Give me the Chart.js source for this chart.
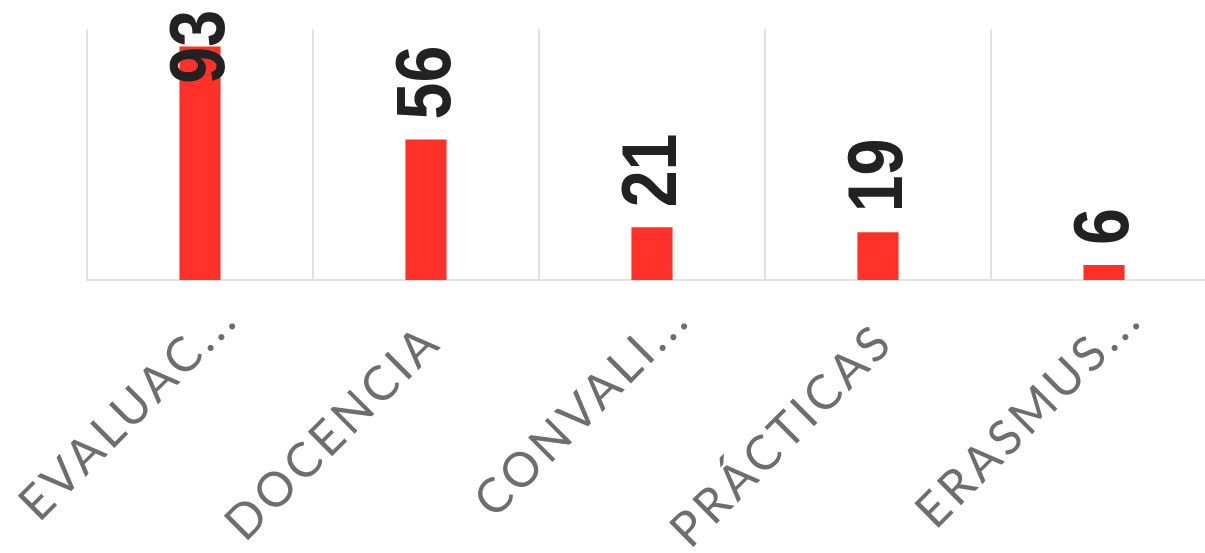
<!DOCTYPE html>
<html>
<head>
<meta charset="utf-8">
<title>Bar chart</title>
<script src="https://cdn.jsdelivr.net/npm/chart.js@4.4.1/dist/chart.umd.min.js"></script>
<style>
  html, body { margin: 0; padding: 0; background: #fff; overflow: hidden; }
  #wrap { position: relative; width: 1230px; height: 553px; }
</style>
</head>
<body>
<div id="wrap"><canvas id="barChart"></canvas></div>
<script>
// categories and values
const categories = ["EVALUAC...", "DOCENCIA", "CONVALI...", "PRÁCTICAS", "ERASMUS..."];
const counts = [93, 56, 21, 19, 6];
const yMin = 0;
const yMax = 100;

const barColor = "#ff3128";
const labelColor = "#222222";
const tickColor = "#6e6e6e";
const gridColor = "#e2e2e2";

// letter spacing for the axis labels (canvas state is reset on resize, so set it each time)
const spacingPlugin = {
    id: "spacing",
    beforeUpdate(chart) { chart.ctx.letterSpacing = "4px"; },
    beforeDraw(chart) { chart.ctx.letterSpacing = "4px"; }
};

// rotated value labels above each bar
const valueLabels = {
    id: "valueLabels",
    afterDatasetsDraw(chart) {
        const ctx = chart.ctx;
        const meta = chart.getDatasetMeta(0);
        ctx.save();
        ctx.letterSpacing = "0px";
        ctx.font = "bold 78px 'Liberation Sans', Arial, sans-serif";
        ctx.fillStyle = labelColor;
        ctx.textAlign = "left";
        ctx.textBaseline = "middle";
        const squeeze = 0.85;
        meta.data.forEach(function(bar, i) {
            const text = String(counts[i]);
            const w = ctx.measureText(text).width * squeeze;
            let start = bar.y - 20;          // bottom end of the text
            if (start - w < 10) start = 10 + w;
            ctx.save();
            ctx.translate(bar.x, start);
            ctx.rotate(-Math.PI / 2);
            ctx.scale(squeeze, 1);
            ctx.fillText(text, 0, 2);
            ctx.restore();
        });
        ctx.restore();
    }
};

const ctx = document.getElementById("barChart").getContext("2d");
const chart = new Chart(ctx, {
    type: "bar",
    data: {
        labels: categories,
        datasets: [{
            data: counts,
            backgroundColor: barColor,
            borderWidth: 0,
            categoryPercentage: 1.0,
            barPercentage: 0.182
        }]
    },
    options: {
        responsive: true,
        maintainAspectRatio: false,
        animation: false,
        layout: {
            padding: { left: 87, right: 13, top: 29, bottom: 0 }
        },
        plugins: {
            legend: { display: false },
            tooltip: { enabled: false }
        },
        scales: {
            x: {
                grid: {
                    color: gridColor,
                    lineWidth: 2,
                    drawTicks: false
                },
                border: { color: gridColor, width: 2 },
                ticks: {
                    color: tickColor,
                    font: { family: "Lato, 'Open Sans', sans-serif", size: 48, weight: 400 },
                    minRotation: 45,
                    maxRotation: 45,
                    padding: 10,
                    labelOffset: 30,
                    autoSkip: false,
                    // full words sit a little lower than the truncated ones
                    callback: function(value, index) {
                        const s = categories[index];
                        return s.endsWith("...") ? s : s + "  ";
                    }
                },
                afterFit: function(scale) {
                    scale.height = 273;
                    scale.paddingLeft = 0;
                    scale.paddingRight = 0;
                }
            },
            y: {
                display: false,
                min: yMin,
                max: yMax
            }
        }
    },
    plugins: [spacingPlugin, valueLabels]
});
</script>
</body>
</html>
